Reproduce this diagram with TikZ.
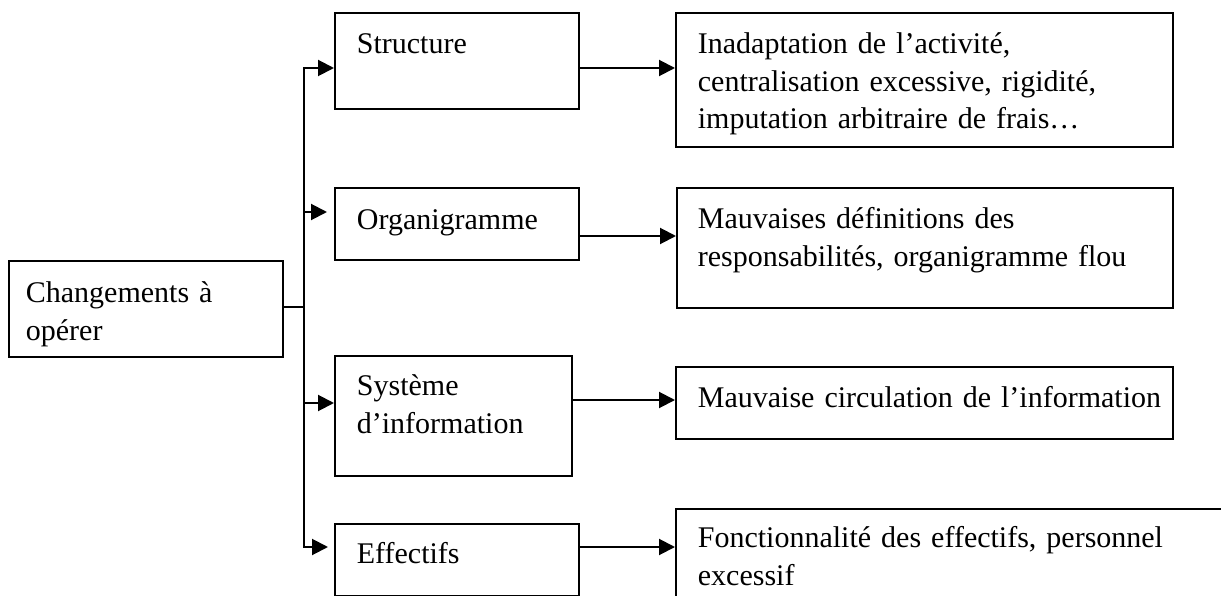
\documentclass[tikz,border=0pt]{standalone}
\usepackage{fontspec}
\setmainfont{Liberation Serif}
\usetikzlibrary{arrows.meta}
% text block set at a left inset inside a box
\newcommand{\insetlines}[2]{\hspace*{#1}\begin{tabular}[t]{@{}l@{}}#2\end{tabular}}
\begin{document}
\begin{tikzpicture}[x=1pt,y=-1pt,
  box/.style={draw, line width=1.8pt, inner sep=0pt, anchor=north west,
    align=left, font=\fontsize{30}{37.5}\selectfont},
  wire/.style={line width=2pt, line join=miter},
  arr/.style={wire, -{Triangle[length=16pt,width=16pt]}}]
\useasboundingbox (0,0) rectangle (1221,596);
\clip (0,0) rectangle (1221,596);

% root
\node[box, text width=274pt, text height=42pt, text depth=54pt] (L) at (8,260)
  {\insetlines{17pt}{Changements à\\opérer}};

% middle column
\node[box, text width=244pt, text height=41pt, text depth=55pt] (S) at (334,12)
  {\insetlines{22pt}{Structure}};
\node[box, text width=244pt, text height=42pt, text depth=30pt] (O) at (334,187)
  {\insetlines{22pt}{Organigramme}};
\node[box, text width=237pt, text height=40pt, text depth=80pt] (Sy) at (334,355)
  {\insetlines{22pt}{Système\\d’information}};
\node[box, text width=244pt, text height=40pt, text depth=32pt] (E) at (334,523)
  {\insetlines{22pt}{Effectifs}};

% right column
\node[box, text width=497pt, text height=41pt, text depth=93pt] (R1) at (675,12)
  {\insetlines{22pt}{Inadaptation de l’activité,\\centralisation excessive, rigidité,\\imputation arbitraire de frais…}};
\node[box, text width=496pt, text height=41pt, text depth=79pt] (R2) at (676,187)
  {\insetlines{21pt}{Mauvaises définitions des\\responsabilités, organigramme flou}};
\node[box, text width=497pt, text height=41pt, text depth=31pt] (R3) at (675,366)
  {\insetlines{22pt}{Mauvaise circulation de l’information}};
\node[box, text width=600pt, text height=39pt, text depth=81pt] (R4) at (675,508)
  {\insetlines{22pt}{Fonctionnalité des effectifs, personnel\\excessif}};

% fork from the root
\coordinate (J) at (304,307);
\draw[wire] (L.east |- J) -- (J);
\draw[arr] (J) -- (304,68) -- (S.west |- 0,68);
\draw[arr] (J) -- (304,547) -- ([xshift=-6pt]E.west |- 0,547);
\draw[arr] (304,212) -- ([xshift=-7pt]O.west |- 0,212);
\draw[arr] (304,403) -- (Sy.west |- 0,403);

% causes
\draw[arr] (S.east |- 0,68) -- (R1.west |- 0,68);
\draw[arr] (O.east |- 0,236) -- (R2.west |- 0,236);
\draw[arr] (Sy.east |- 0,400) -- (R3.west |- 0,400);
\draw[arr] (E.east |- 0,547) -- (R4.west |- 0,547);
\end{tikzpicture}
\end{document}
